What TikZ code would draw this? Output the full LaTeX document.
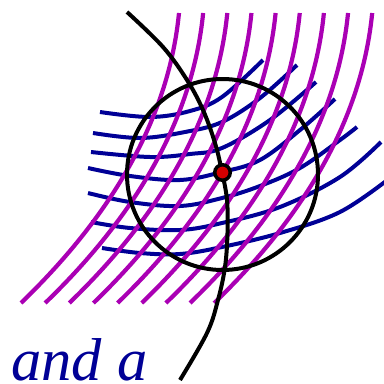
\documentclass[tikz,border=0pt]{standalone}
\usepackage{fontspec}
\setmainfont{Liberation Serif}
\definecolor{gridpurple}{RGB}{170,0,180}
\definecolor{gridblue}{RGB}{0,0,150}
\definecolor{dotred}{RGB}{210,0,0}
\tikzset{
  bluecurve/.style={draw=gridblue, line width=4pt},
  purplecurve/.style={draw=gridpurple, line width=4.2pt},
  blackline/.style={draw=black, line width=4pt},
  pointdot/.style={circle, fill=dotred, draw=black, line width=3.5pt, inner sep=0pt, minimum size=15.5pt},
  labeltext/.style={font=\fontsize{60.5}{60}\selectfont\itshape, text=gridblue, anchor=base west, inner sep=0pt}
}
\begin{document}
\begin{tikzpicture}[x=1pt,y=-1pt]
\useasboundingbox (0,0) rectangle (384,384);
\clip (0,0) rectangle (384,384);
% blue family
\draw[bluecurve] plot[smooth, tension=0.6] coordinates {(100,112) (150,117) (190,111) (222,97) (263,60)};
\draw[bluecurve] plot[smooth, tension=0.6] coordinates {(93,133) (140,138) (185,132) (222,122) (260,98) (297,65)};
\draw[bluecurve] plot[smooth, tension=0.6] coordinates {(91,152) (150,157) (190,154) (222,148) (270,120) (316,82)};
\draw[bluecurve] plot[smooth, tension=0.6] coordinates {(88,168) (130,176) (180,180) (222,172) (260,160) (300,130) (335,99)};
\draw[bluecurve] plot[smooth, tension=0.6] coordinates {(88,193) (130,202) (180,206) (222,198) (260,186) (300,168) (340,140) (357,127)};
\draw[bluecurve] plot[smooth, tension=0.6] coordinates {(91,222) (130,228) (180,230) (222,223) (280,207) (340,177) (381,142)};
\draw[bluecurve] plot[smooth, tension=0.6] coordinates {(102,248) (140,253) (180,254) (222,247) (280,233) (340,212) (390,178)};
% purple family
\foreach \i in {0,...,8}{
  \pgfmathsetmacro{\xt}{179+24.15*\i}
  \draw[purplecurve] (\xt,13) .. controls (\xt-10,114) and (\xt-62.7,211) .. (\xt-158,303);
}
% black curve
\draw[blackline] plot[smooth, tension=0.6] coordinates {(127,12) (163,47) (187,80) (203,110) (215,143) (222,172) (227,200) (227.5,233) (225,267) (218,300) (207,333) (180,380)};
% circle
\draw[blackline] (222.5,174.5) circle[radius=95.5pt];
% point
\node[pointdot] (p) at (222.5,172.5) {};
% label
\node[labeltext] (t) at (11,380.5) {and a};
\end{tikzpicture}
\end{document}
